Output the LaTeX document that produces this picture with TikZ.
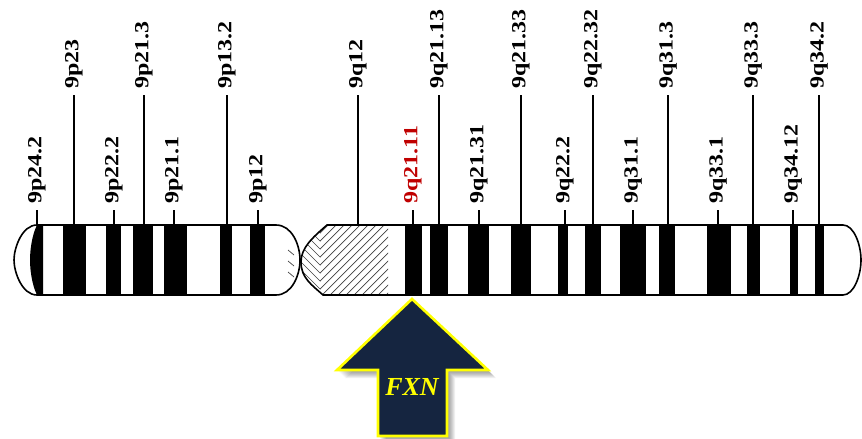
\documentclass[tikz,border=0pt]{standalone}
\usepackage{fontspec}
\setmainfont{Liberation Serif}
% tall band labels: slightly widened face, later rotated
\newfontfamily\bandfont[FakeStretch=1.2]{Liberation Serif}
\usetikzlibrary{calc}
\definecolor{bandred}{RGB}{192,0,0}
\definecolor{fxnnavy}{RGB}{21,37,64}
\definecolor{fxnyellow}{RGB}{255,255,0}

% outlines of the two chromosome arms
\def\parmpath{(37,225) -- (276,225) .. controls (292,225) and (300,245) .. (300,260)
  .. controls (300,275) and (292,295) .. (276,295) -- (37,295)
  .. controls (22,295) and (14,272) .. (14,260) .. controls (14,248) and (22,225) .. (37,225) -- cycle}
\def\qarmpath{(327,225) -- (843,225) .. controls (854,225) and (861,245) .. (861,260)
  .. controls (861,275) and (854,295) .. (843,295) -- (323,295)
  .. controls (312,285) and (301,278) .. (301,262) .. controls (301,248) and (312,238) .. (327,225) -- cycle}
% gene marker arrow
\def\genearrow{(412,299) -- (488,370) -- (447,370) -- (447,436) -- (378,436) -- (378,370) -- (337,370) -- cycle}

\begin{document}
\begin{tikzpicture}[x=1pt,y=-1pt,
  bandfill/.style={fill=black},
  armline/.style={draw=black,line width=1.6pt},
  hatchline/.style={draw=black!75,line width=0.7pt},
  bandlabel/.style={anchor=west,rotate=90,inner sep=0pt},
  tickline/.style={draw=black,line width=1.6pt},
  genebox/.style={fill=fxnnavy,draw=fxnyellow,line width=2.6pt,line join=miter},
  genetext/.style={text=fxnyellow,font=\fontsize{26}{26}\selectfont\bfseries\itshape},
]
\path[use as bounding box,fill=white] (0,0) rectangle (862,439);

% ---- short arm (p) ----
\fill[white] \parmpath;
\begin{scope}
  \clip \parmpath;
  \fill[bandfill] (37,225) .. controls (32,235) and (30,250) .. (30,260)
    .. controls (30,270) and (32,285) .. (37,295) -- (43,295) -- (43,225) -- cycle;
  \foreach \a/\b in {63/86,106/121,133/153,164/187,220/232,250/265}
    \fill[bandfill] (\a,220) rectangle (\b,300);
  \foreach \yy in {250,261,272}
    \draw[hatchline] (288,\yy) -- (294,\yy+5);
\end{scope}
\draw[armline] \parmpath;

% ---- long arm (q) ----
\fill[white] \qarmpath;
\begin{scope}
  \clip \qarmpath;
  \foreach \a/\b in {405/422,430/448,468/489,511/531,558/568,585/601,620/646,
                     659/675,707/731,747/760,790/798,815/824}
    \fill[bandfill] (\a,220) rectangle (\b,300);
  % hatched heterochromatin block
  \begin{scope}
    \clip (320,220) rectangle (388,300);
    \foreach \a in {250,258,...,394}
      \draw[hatchline] (\a,295) -- (\a+70,225);
  \end{scope}
  \begin{scope}
    \clip (296,220) rectangle (320,300);
    \foreach \a in {250,258,...,394}
      \draw[hatchline] (640-\a,295) -- (570-\a,225);
  \end{scope}
\end{scope}
\draw[armline] \qarmpath;

% ---- band labels and their ticks ----
\foreach \x/\lbl/\lng/\c [count=\i] in {
    37/9p24.2/0/black, 74/9p23/1/black, 114/9p22.2/0/black, 144/9p21.3/1/black,
    174/9p21.1/0/black, 227/9p13.2/1/black, 258/9p12/0/black,
    358/9q12/1/black, 413/9q21.11/0/bandred, 439/9q21.13/1/black,
    479/9q21.31/0/black, 521/9q21.33/1/black, 565/9q22.2/0/black,
    593/9q22.32/1/black, 633/9q31.1/0/black, 668/9q31.3/1/black,
    718/9q33.1/0/black, 753/9q33.3/1/black, 793/9q34.12/0/black,
    819/9q34.2/1/black}
{
  \ifnum\lng=1 \def\ty{89}\else\def\ty{204}\fi
  \node[bandlabel,text=\c] (lab\i) at (\x,\ty)
    {\bandfont\fontsize{20}{20}\selectfont\bfseries \lbl};
  \coordinate (top\i) at (\x,225);
  \draw[tickline] ($(lab\i.west)+(0,6)$) -- (top\i);
}

% ---- FXN locus marker ----
\foreach \s in {2,...,8}
  \fill[black,opacity=0.06,shift={(\s,\s)}] \genearrow;
\draw[genebox] \genearrow;
\node[genetext] (fxn) at (412,387) {FXN};
\end{tikzpicture}
\end{document}
